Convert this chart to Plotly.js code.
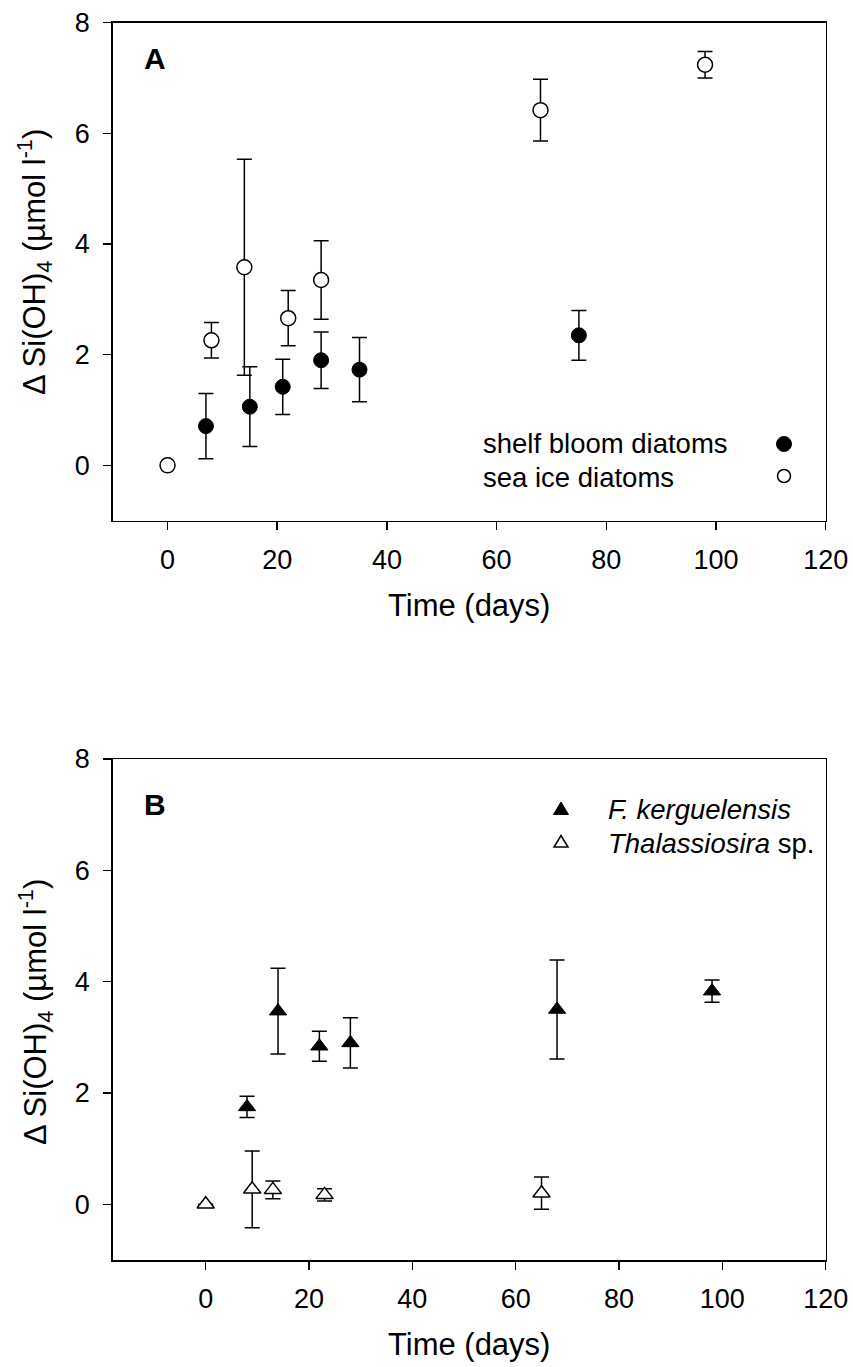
<!DOCTYPE html>
<html>
<head>
<meta charset="utf-8">
<script src="https://cdn.plot.ly/plotly-3.0.1.min.js"></script>
<style>html,body{margin:0;padding:0;background:#fff;}#chart{width:853px;height:1367px;}</style>
</head>
<body>
<div id="chart"></div>
<script>
// ---------- Data ----------
// Panel A
const shelfDays = [7, 15, 21, 28, 35, 75];
const shelfVal  = [0.71, 1.06, 1.42, 1.90, 1.73, 2.35];
const shelfErr  = [0.59, 0.72, 0.50, 0.51, 0.58, 0.45];

const iceDays = [0, 8, 14, 22, 28, 68, 98];
const iceVal  = [0.0, 2.26, 3.58, 2.66, 3.35, 6.42, 7.24];
const iceErr  = [null, 0.32, 1.95, 0.50, 0.71, 0.56, 0.24];

// Panel B
const fkDays = [8, 14, 22, 28, 68, 98];
const fkVal  = [1.75, 3.47, 2.84, 2.90, 3.50, 3.83];
const fkErr  = [0.19, 0.77, 0.27, 0.45, 0.89, 0.20];

const thDays = [0, 9, 13, 23, 65];
const thVal  = [0.0, 0.27, 0.26, 0.17, 0.20];
const thErr  = [null, 0.69, 0.16, 0.11, 0.29];

const seriesNames = ['shelf bloom diatoms', 'sea ice diatoms', 'F. kerguelensis', 'Thalassiosira sp.'];
const panelLabels = ['A', 'B'];
const xTitle = 'Time (days)';
const yTitle = '\u0394 Si(OH)<sub>4</sub> (\u00b5mol l<sup>-1</sup>)';
const yTicks = [0, 2, 4, 6, 8];
const xTicks = [0, 20, 40, 60, 80, 100, 120];

// ---------- Layout helpers ----------
const W = 853, H = 1367;
const px = v => v / W;
const py = v => 1 - v / H;
const FONT = 'Liberation Sans, Arial, Helvetica, sans-serif';

function errBar(arr) {
  return {type: 'data', array: arr, visible: true, color: '#000', thickness: 1.5, width: 7.5};
}

const traces = [
  {x: shelfDays, y: shelfVal, error_y: errBar(shelfErr), xaxis: 'x', yaxis: 'y', mode: 'markers', type: 'scatter',
   name: seriesNames[0], marker: {symbol: 'circle', size: 15, color: '#000', line: {color: '#000', width: 1}}},
  {x: iceDays, y: iceVal, error_y: errBar(iceErr), xaxis: 'x', yaxis: 'y', mode: 'markers', type: 'scatter',
   name: seriesNames[1], marker: {symbol: 'circle', size: 15, color: '#fff', line: {color: '#000', width: 1.5}}},
  {x: fkDays, y: fkVal, error_y: errBar(fkErr), xaxis: 'x2', yaxis: 'y2', mode: 'markers', type: 'scatter',
   name: seriesNames[2], marker: {symbol: 'triangle-up', size: 15, color: '#000', line: {color: '#000', width: 1}}},
  {x: thDays, y: thVal, error_y: errBar(thErr), xaxis: 'x2', yaxis: 'y2', mode: 'markers', type: 'scatter',
   name: seriesNames[3], marker: {symbol: 'triangle-up', size: 15, color: '#fff', line: {color: '#000', width: 1.5}}}
];

const axBase = {
  showline: true, mirror: true, linecolor: '#000', linewidth: 1.5,
  ticks: 'outside', ticklen: 8, tickwidth: 1.5, tickcolor: '#000',
  showgrid: false, zeroline: false,
  tickfont: {family: FONT, size: 27, color: '#000'},
  automargin: false
};

const xdom = [px(112.7), px(825.7)];
const xTitleObj = {text: xTitle, font: {family: FONT, size: 31, color: '#000'}, standoff: 20};

const layout = {
  width: W, height: H,
  margin: {l: 0, r: 0, t: 0, b: 0},
  paper_bgcolor: '#fff', plot_bgcolor: '#fff',
  showlegend: false,
  font: {family: FONT, color: '#000'},
  xaxis: Object.assign({}, axBase, {domain: xdom, range: [-10, 120], tickvals: xTicks, anchor: 'y',
    ticklabelstandoff: 6, title: xTitleObj}),
  yaxis: Object.assign({}, axBase, {domain: [py(520.7), py(22.7)], range: [-1, 8], tickvals: yTicks, anchor: 'x',
    ticklabelstandoff: 8}),
  xaxis2: Object.assign({}, axBase, {domain: xdom, range: [-18, 120], tickvals: xTicks, anchor: 'y2',
    ticklabelstandoff: 6, title: xTitleObj}),
  yaxis2: Object.assign({}, axBase, {domain: [py(1260), py(759)], range: [-1, 8], tickvals: yTicks, anchor: 'x2',
    ticklabelstandoff: 8}),
  annotations: [
    // y-axis titles (rotated)
    {text: yTitle, xref: 'paper', yref: 'paper', x: px(35), y: py(262), textangle: -90,
     xanchor: 'center', yanchor: 'middle', showarrow: false, font: {family: FONT, size: 31, color: '#000'}},
    {text: yTitle, xref: 'paper', yref: 'paper', x: px(35), y: py(1012), textangle: -90,
     xanchor: 'center', yanchor: 'middle', showarrow: false, font: {family: FONT, size: 31, color: '#000'}},
    // panel labels
    {text: '<b>' + panelLabels[0] + '</b>', xref: 'paper', yref: 'paper', x: px(155), y: py(59),
     xanchor: 'center', yanchor: 'middle', showarrow: false, font: {family: FONT, size: 30, color: '#000'}},
    {text: '<b>' + panelLabels[1] + '</b>', xref: 'paper', yref: 'paper', x: px(155), y: py(804),
     xanchor: 'center', yanchor: 'middle', showarrow: false, font: {family: FONT, size: 30, color: '#000'}},
    // legend A
    {text: seriesNames[0], xref: 'paper', yref: 'paper', x: px(481), y: py(443),
     xanchor: 'left', yanchor: 'middle', showarrow: false, font: {family: FONT, size: 27.5, color: '#000'}},
    {text: seriesNames[1], xref: 'paper', yref: 'paper', x: px(481), y: py(477),
     xanchor: 'left', yanchor: 'middle', showarrow: false, font: {family: FONT, size: 27.5, color: '#000'}},
    // legend B
    {text: '<i>F. kerguelensis</i>', xref: 'paper', yref: 'paper', x: px(606), y: py(809),
     xanchor: 'left', yanchor: 'middle', showarrow: false, font: {family: FONT, size: 27.5, color: '#000'}},
    {text: '<i>Thalassiosira</i> sp.', xref: 'paper', yref: 'paper', x: px(606), y: py(843),
     xanchor: 'left', yanchor: 'middle', showarrow: false, font: {family: FONT, size: 27.5, color: '#000'}}
  ],
  shapes: [
    {type: 'circle', xref: 'paper', yref: 'paper', xsizemode: 'pixel', ysizemode: 'pixel',
     xanchor: px(784), yanchor: py(444), x0: -7.5, x1: 7.5, y0: -7.5, y1: 7.5,
     fillcolor: '#000', line: {color: '#000', width: 1}},
    {type: 'circle', xref: 'paper', yref: 'paper', xsizemode: 'pixel', ysizemode: 'pixel',
     xanchor: px(784), yanchor: py(476), x0: -6.5, x1: 6.5, y0: -6.5, y1: 6.5,
     fillcolor: '#fff', line: {color: '#000', width: 1.5}},
    {type: 'path', xref: 'paper', yref: 'paper', xsizemode: 'pixel', ysizemode: 'pixel',
     xanchor: px(561), yanchor: py(809), path: 'M-7.5,-5.5 L7.5,-5.5 L0,7 Z',
     fillcolor: '#000', line: {color: '#000', width: 1}},
    {type: 'path', xref: 'paper', yref: 'paper', xsizemode: 'pixel', ysizemode: 'pixel',
     xanchor: px(561), yanchor: py(842), path: 'M-7,-5 L7,-5 L0,6.5 Z',
     fillcolor: '#fff', line: {color: '#000', width: 1.5}}
  ]
};

Plotly.newPlot('chart', traces, layout, {staticPlot: true, displayModeBar: false});
</script>
</body>
</html>
